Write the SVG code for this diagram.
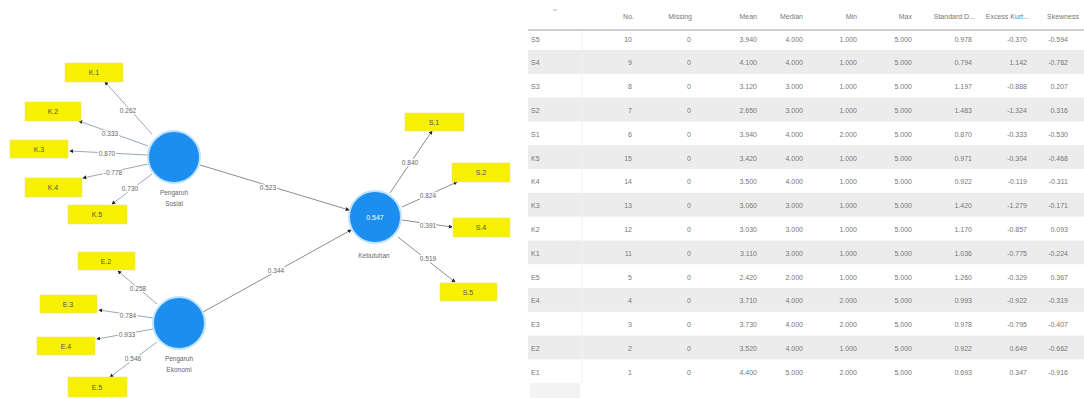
<svg xmlns="http://www.w3.org/2000/svg" width="1084" height="398" viewBox="0 0 1084 398">
<style>
.bg{fill:#ffffff}
.lv{fill:#1b8ef0;stroke:#bfe2ff;stroke-width:2}
.ind{fill:#f7f000;stroke:#e9e37a;stroke-width:0.6}
.it{font-family:"Liberation Sans",sans-serif;font-size:7px;fill:#555;text-anchor:middle}
.ll{font-family:"Liberation Sans",sans-serif;font-size:6.5px;fill:#666;text-anchor:middle;paint-order:stroke;stroke:#fff;stroke-width:2.5px}
.nl{font-family:"Liberation Sans",sans-serif;font-size:6.5px;fill:#666;text-anchor:middle}
.vt{font-family:"Liberation Sans",sans-serif;font-size:7px;fill:#fff;text-anchor:middle}
.cl{stroke:#9aa7b8;stroke-width:1;fill:none;marker-end:url(#ah)}
.sl{stroke:#8c8c8c;stroke-width:1;fill:none;marker-end:url(#ah)}
.band{fill:#ececec}
.th{font-family:"Liberation Sans",sans-serif;font-size:7px;fill:#777;text-anchor:end}
.td{font-family:"Liberation Sans",sans-serif;font-size:7px;fill:#777;text-anchor:end}
.tl{font-family:"Liberation Sans",sans-serif;font-size:7px;fill:#777;text-anchor:start}
</style>
<defs>
<marker id="ah" viewBox="0 0 6 6" refX="5" refY="3" markerWidth="4" markerHeight="4" orient="auto">
<path d="M0,0 L6,3 L0,6 z" fill="#222"/>
</marker>
</defs>
<rect class="bg" x="0" y="0" width="1084" height="398"/>

<g id="connectors">
<line class="cl" x1="152" y1="134" x2="105" y2="82"/>
<line class="cl" x1="148" y1="146" x2="79" y2="121"/>
<line class="cl" x1="148" y1="155" x2="70" y2="151"/>
<line class="cl" x1="148" y1="164" x2="83" y2="178"/>
<line class="cl" x1="152" y1="174" x2="112" y2="204"/>
<line class="cl" x1="157" y1="304" x2="118" y2="271"/>
<line class="cl" x1="153" y1="318" x2="99" y2="310"/>
<line class="cl" x1="153" y1="329" x2="97" y2="339"/>
<line class="cl" x1="157" y1="342" x2="110" y2="377"/>
<line class="sl" x1="200" y1="165" x2="349" y2="210"/>
<line class="sl" x1="203" y1="312" x2="351" y2="230"/>
<line class="sl" x1="390" y1="193" x2="432" y2="131"/>
<line class="sl" x1="402" y1="207" x2="457" y2="182"/>
<line class="sl" x1="402" y1="220" x2="452" y2="227"/>
<line class="sl" x1="398" y1="237" x2="455" y2="282"/>
<text class="ll" x="128" y="113">0.262</text>
<text class="ll" x="110" y="136">0.333</text>
<text class="ll" x="107" y="156">0.870</text>
<text class="ll" x="113" y="175">-0.778</text>
<text class="ll" x="130" y="191">0.730</text>
<text class="ll" x="138" y="291">0.258</text>
<text class="ll" x="128" y="318">0.784</text>
<text class="ll" x="127" y="337">0.933</text>
<text class="ll" x="133" y="361">0.546</text>
<text class="ll" x="268" y="190">0.523</text>
<text class="ll" x="276" y="273">0.344</text>
<text class="ll" x="410" y="165">0.840</text>
<text class="ll" x="428" y="198">0.824</text>
<text class="ll" x="428" y="228">0.391</text>
<text class="ll" x="428" y="261">0.519</text>
</g>

<g id="pengaruh-sosial">
<circle class="lv" cx="174" cy="157" r="26"/>
<text class="nl" x="174" y="195">Pengaruh</text>
<text class="nl" x="174" y="206">Sosial</text>
</g>
<g id="pengaruh-ekonomi">
<circle class="lv" cx="179" cy="323" r="26"/>
<text class="nl" x="179" y="361">Pengaruh</text>
<text class="nl" x="179" y="372">Ekonomi</text>
</g>
<g id="kebutuhan">
<circle class="lv" cx="375" cy="217" r="26"/>
<text class="vt" x="375" y="220">0.547</text>
<text class="nl" x="374" y="258">Kebutuhan</text>
</g>

<g id="K1"><rect class="ind" x="65" y="63" width="58" height="19"/><text class="it" x="94" y="75">K.1</text></g>
<g id="K2"><rect class="ind" x="25" y="102" width="56" height="19"/><text class="it" x="53" y="114">K.2</text></g>
<g id="K3"><rect class="ind" x="10" y="140" width="58" height="18"/><text class="it" x="39" y="152">K.3</text></g>
<g id="K4"><rect class="ind" x="25" y="178" width="57" height="19"/><text class="it" x="53" y="190">K.4</text></g>
<g id="K5"><rect class="ind" x="68" y="205" width="59" height="19"/><text class="it" x="97" y="217">K.5</text></g>
<g id="E2"><rect class="ind" x="78" y="252" width="57" height="18"/><text class="it" x="106" y="264">E.2</text></g>
<g id="E3"><rect class="ind" x="40" y="295" width="57" height="18"/><text class="it" x="68" y="307">E.3</text></g>
<g id="E4"><rect class="ind" x="37" y="337" width="58" height="18"/><text class="it" x="66" y="349">E.4</text></g>
<g id="E5"><rect class="ind" x="68" y="377" width="59" height="20"/><text class="it" x="97" y="390">E.5</text></g>
<g id="S1"><rect class="ind" x="405" y="113" width="59" height="18"/><text class="it" x="434" y="125">S.1</text></g>
<g id="S2"><rect class="ind" x="452" y="163" width="58" height="19"/><text class="it" x="481" y="175">S.2</text></g>
<g id="S4"><rect class="ind" x="453" y="218" width="57" height="19"/><text class="it" x="481" y="230">S.4</text></g>
<g id="S5"><rect class="ind" x="440" y="283" width="57" height="18"/><text class="it" x="468" y="295">S.5</text></g>

<g id="table">
<line x1="553" y1="10" x2="557" y2="10" stroke="#aaa" stroke-width="1"/>
<line x1="528" y1="30" x2="1084" y2="30" stroke="#cfcfcf" stroke-width="2"/>
<rect class="band" x="528" y="50" width="556" height="23.8"/>
<rect class="band" x="528" y="97.6" width="556" height="23.8"/>
<rect class="band" x="528" y="145.2" width="556" height="23.8"/>
<rect class="band" x="528" y="192.8" width="556" height="23.8"/>
<rect class="band" x="528" y="240.4" width="556" height="23.8"/>
<rect class="band" x="528" y="288" width="556" height="23.8"/>
<rect class="band" x="528" y="335.6" width="556" height="23.8"/>
<rect x="530" y="383" width="50" height="15" fill="#f3f3f3"/>
<line x1="582" y1="31" x2="582" y2="383" stroke="#f2f2f2" stroke-width="1"/>
<g>
<text class="th" x="634" y="19">No.</text>
<text class="th" x="692" y="19">Missing</text>
<text class="th" x="757" y="19">Mean</text>
<text class="th" x="803" y="19">Median</text>
<text class="th" x="857" y="19">Min</text>
<text class="th" x="912" y="19">Max</text>
<text class="th" x="975" y="19">Standard D...</text>
<text class="th" x="1029" y="19">Excess Kurt...</text>
<text class="tl" x="1047" y="19">Skewness</text>
</g>
<g id="rows">
<text class="tl" x="531" y="41.5">S5</text><text class="td" x="632" y="41.5">10</text><text class="td" x="691" y="41.5">0</text><text class="td" x="757" y="41.5">3.940</text><text class="td" x="803" y="41.5">4.000</text><text class="td" x="857" y="41.5">1.000</text><text class="td" x="912" y="41.5">5.000</text><text class="td" x="972" y="41.5">0.978</text><text class="td" x="1027" y="41.5">-0.370</text><text class="td" x="1068" y="41.5">-0.594</text>
<text class="tl" x="531" y="65.3">S4</text><text class="td" x="632" y="65.3">9</text><text class="td" x="691" y="65.3">0</text><text class="td" x="757" y="65.3">4.100</text><text class="td" x="803" y="65.3">4.000</text><text class="td" x="857" y="65.3">1.000</text><text class="td" x="912" y="65.3">5.000</text><text class="td" x="972" y="65.3">0.794</text><text class="td" x="1027" y="65.3">1.142</text><text class="td" x="1068" y="65.3">-0.782</text>
<text class="tl" x="531" y="89.1">S3</text><text class="td" x="632" y="89.1">8</text><text class="td" x="691" y="89.1">0</text><text class="td" x="757" y="89.1">3.120</text><text class="td" x="803" y="89.1">3.000</text><text class="td" x="857" y="89.1">1.000</text><text class="td" x="912" y="89.1">5.000</text><text class="td" x="972" y="89.1">1.197</text><text class="td" x="1027" y="89.1">-0.888</text><text class="td" x="1068" y="89.1">0.207</text>
<text class="tl" x="531" y="112.9">S2</text><text class="td" x="632" y="112.9">7</text><text class="td" x="691" y="112.9">0</text><text class="td" x="757" y="112.9">2.650</text><text class="td" x="803" y="112.9">3.000</text><text class="td" x="857" y="112.9">1.000</text><text class="td" x="912" y="112.9">5.000</text><text class="td" x="972" y="112.9">1.483</text><text class="td" x="1027" y="112.9">-1.324</text><text class="td" x="1068" y="112.9">0.316</text>
<text class="tl" x="531" y="136.7">S1</text><text class="td" x="632" y="136.7">6</text><text class="td" x="691" y="136.7">0</text><text class="td" x="757" y="136.7">3.940</text><text class="td" x="803" y="136.7">4.000</text><text class="td" x="857" y="136.7">2.000</text><text class="td" x="912" y="136.7">5.000</text><text class="td" x="972" y="136.7">0.870</text><text class="td" x="1027" y="136.7">-0.333</text><text class="td" x="1068" y="136.7">-0.530</text>
<text class="tl" x="531" y="160.5">K5</text><text class="td" x="632" y="160.5">15</text><text class="td" x="691" y="160.5">0</text><text class="td" x="757" y="160.5">3.420</text><text class="td" x="803" y="160.5">4.000</text><text class="td" x="857" y="160.5">1.000</text><text class="td" x="912" y="160.5">5.000</text><text class="td" x="972" y="160.5">0.971</text><text class="td" x="1027" y="160.5">-0.304</text><text class="td" x="1068" y="160.5">-0.468</text>
<text class="tl" x="531" y="184.3">K4</text><text class="td" x="632" y="184.3">14</text><text class="td" x="691" y="184.3">0</text><text class="td" x="757" y="184.3">3.500</text><text class="td" x="803" y="184.3">4.000</text><text class="td" x="857" y="184.3">1.000</text><text class="td" x="912" y="184.3">5.000</text><text class="td" x="972" y="184.3">0.922</text><text class="td" x="1027" y="184.3">-0.119</text><text class="td" x="1068" y="184.3">-0.311</text>
<text class="tl" x="531" y="208.1">K3</text><text class="td" x="632" y="208.1">13</text><text class="td" x="691" y="208.1">0</text><text class="td" x="757" y="208.1">3.060</text><text class="td" x="803" y="208.1">3.000</text><text class="td" x="857" y="208.1">1.000</text><text class="td" x="912" y="208.1">5.000</text><text class="td" x="972" y="208.1">1.420</text><text class="td" x="1027" y="208.1">-1.279</text><text class="td" x="1068" y="208.1">-0.171</text>
<text class="tl" x="531" y="231.9">K2</text><text class="td" x="632" y="231.9">12</text><text class="td" x="691" y="231.9">0</text><text class="td" x="757" y="231.9">3.030</text><text class="td" x="803" y="231.9">3.000</text><text class="td" x="857" y="231.9">1.000</text><text class="td" x="912" y="231.9">5.000</text><text class="td" x="972" y="231.9">1.170</text><text class="td" x="1027" y="231.9">-0.857</text><text class="td" x="1068" y="231.9">0.093</text>
<text class="tl" x="531" y="255.7">K1</text><text class="td" x="632" y="255.7">11</text><text class="td" x="691" y="255.7">0</text><text class="td" x="757" y="255.7">3.110</text><text class="td" x="803" y="255.7">3.000</text><text class="td" x="857" y="255.7">1.000</text><text class="td" x="912" y="255.7">5.000</text><text class="td" x="972" y="255.7">1.036</text><text class="td" x="1027" y="255.7">-0.775</text><text class="td" x="1068" y="255.7">-0.224</text>
<text class="tl" x="531" y="279.5">E5</text><text class="td" x="632" y="279.5">5</text><text class="td" x="691" y="279.5">0</text><text class="td" x="757" y="279.5">2.420</text><text class="td" x="803" y="279.5">2.000</text><text class="td" x="857" y="279.5">1.000</text><text class="td" x="912" y="279.5">5.000</text><text class="td" x="972" y="279.5">1.260</text><text class="td" x="1027" y="279.5">-0.329</text><text class="td" x="1068" y="279.5">0.367</text>
<text class="tl" x="531" y="303.3">E4</text><text class="td" x="632" y="303.3">4</text><text class="td" x="691" y="303.3">0</text><text class="td" x="757" y="303.3">3.710</text><text class="td" x="803" y="303.3">4.000</text><text class="td" x="857" y="303.3">2.000</text><text class="td" x="912" y="303.3">5.000</text><text class="td" x="972" y="303.3">0.993</text><text class="td" x="1027" y="303.3">-0.922</text><text class="td" x="1068" y="303.3">-0.319</text>
<text class="tl" x="531" y="327.1">E3</text><text class="td" x="632" y="327.1">3</text><text class="td" x="691" y="327.1">0</text><text class="td" x="757" y="327.1">3.730</text><text class="td" x="803" y="327.1">4.000</text><text class="td" x="857" y="327.1">2.000</text><text class="td" x="912" y="327.1">5.000</text><text class="td" x="972" y="327.1">0.978</text><text class="td" x="1027" y="327.1">-0.795</text><text class="td" x="1068" y="327.1">-0.407</text>
<text class="tl" x="531" y="350.9">E2</text><text class="td" x="632" y="350.9">2</text><text class="td" x="691" y="350.9">0</text><text class="td" x="757" y="350.9">3.520</text><text class="td" x="803" y="350.9">4.000</text><text class="td" x="857" y="350.9">1.000</text><text class="td" x="912" y="350.9">5.000</text><text class="td" x="972" y="350.9">0.922</text><text class="td" x="1027" y="350.9">0.649</text><text class="td" x="1068" y="350.9">-0.662</text>
<text class="tl" x="531" y="374.7">E1</text><text class="td" x="632" y="374.7">1</text><text class="td" x="691" y="374.7">0</text><text class="td" x="757" y="374.7">4.400</text><text class="td" x="803" y="374.7">5.000</text><text class="td" x="857" y="374.7">2.000</text><text class="td" x="912" y="374.7">5.000</text><text class="td" x="972" y="374.7">0.693</text><text class="td" x="1027" y="374.7">0.347</text><text class="td" x="1068" y="374.7">-0.916</text>
</g>
</g>
</svg>
